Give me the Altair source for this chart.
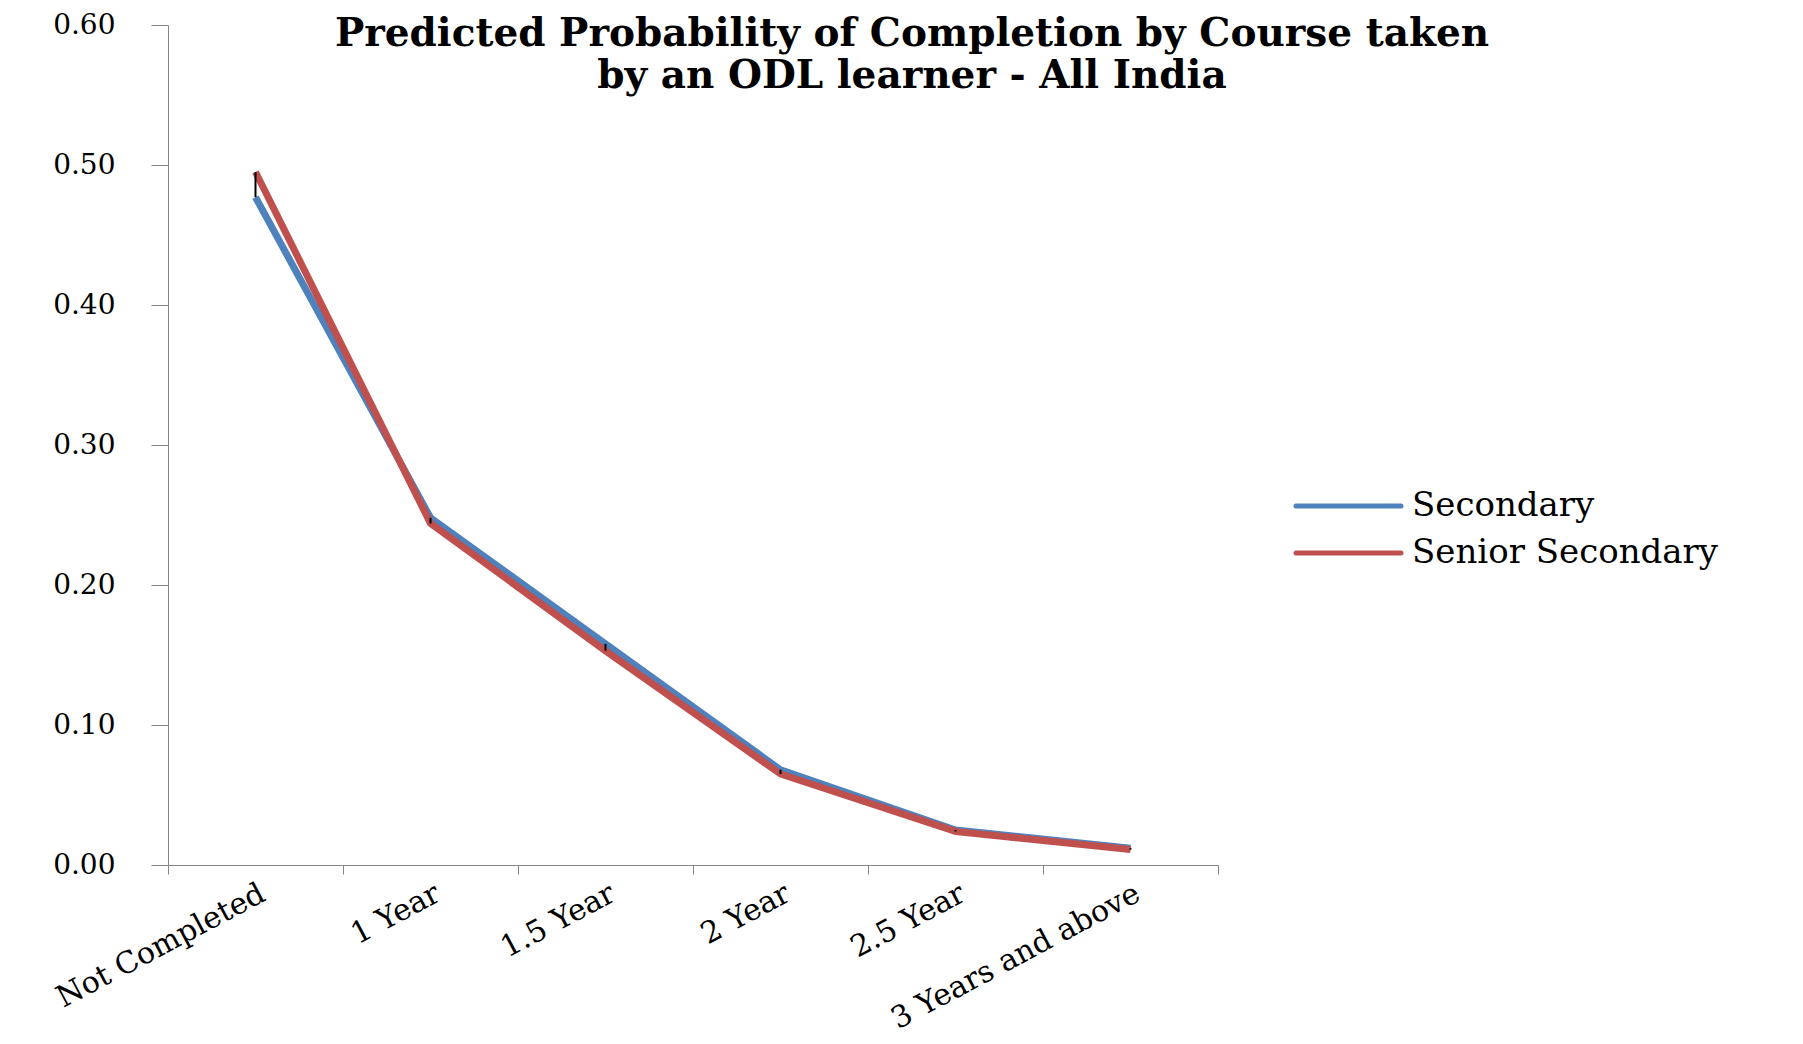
import altair as alt
import pandas as pd

CATEGORIES = ["Not Completed", "1 Year", "1.5 Year", "2 Year", "2.5 Year", "3 Years and above"]
SERIES = ["Secondary", "Senior Secondary"]
SECONDARY = [0.477, 0.248, 0.158, 0.068, 0.025, 0.012]
SENIOR_SECONDARY = [0.495, 0.244, 0.153, 0.065, 0.024, 0.011]
COLORS = ["#4F81BD", "#C0504D"]
Y_TICKS = [0.0, 0.1, 0.2, 0.3, 0.4, 0.5, 0.6]
TITLE = ["Predicted Probability of Completion  by Course taken", "by an ODL learner - All India"]

rows = []
for s, vals in zip(SERIES, [SECONDARY, SENIOR_SECONDARY]):
    for i, (c, v) in enumerate(zip(CATEGORIES, vals)):
        rows.append({"course": c, "series": s, "value": v, "order": i})
df = pd.DataFrame(rows)

W, H = 1050, 840
AXIS_GRAY = "#868686"
FONT = "DejaVu Serif"

x_enc = alt.X(
    "course:N",
    sort=CATEGORIES,
    bandPosition=0.5,
    scale=alt.Scale(type="band", paddingInner=0, paddingOuter=0),
    axis=alt.Axis(
        title=None, labelAngle=-28, labelAlign="right", labelBaseline="top",
        labelFont=FONT, labelFontSize=30, labelColor="#000000", labelLimit=0,
        tickBand="extent", tickSize=9, tickColor=AXIS_GRAY, domainColor=AXIS_GRAY,
        labelPadding=4, grid=False,
    ),
)
y_scale = alt.Scale(domain=[0, 0.6], nice=False)
y_axis = alt.Axis(
    title=None, values=Y_TICKS, format=".2f", labelFont=FONT, labelFontSize=28,
    labelColor="#000000", tickSize=17, tickColor=AXIS_GRAY, domainColor=AXIS_GRAY,
    labelPadding=36, grid=False,
)

lines = alt.Chart(df).mark_line(strokeWidth=7, strokeJoin="round").encode(
    x=x_enc,
    y=alt.Y("value:Q", scale=y_scale, axis=y_axis),
    color=alt.Color("series:N", scale=alt.Scale(domain=SERIES, range=COLORS), legend=None),
    order="order:Q",
)

highlow = alt.Chart(df).mark_rule(color="black", strokeWidth=2).encode(
    x=x_enc,
    y=alt.Y("min(value):Q", scale=y_scale),
    y2=alt.Y2("max(value):Q"),
)

legend_layers = []
for i, (s, col) in enumerate(zip(SERIES, COLORS)):
    ld = pd.DataFrame({"series": [s]})
    yy = 481 + i * 47
    legend_layers.append(
        alt.Chart(ld).mark_rule(color=col, strokeWidth=5, strokeCap="round").encode(
            x=alt.value(1128), x2=alt.value(1233), y=alt.value(yy)
        )
    )
    legend_layers.append(
        alt.Chart(ld).mark_text(align="left", baseline="middle", font=FONT, fontSize=34, color="#000000").encode(
            x=alt.value(1244), y=alt.value(yy), text="series:N"
        )
    )

chart = alt.layer(lines, highlow, *legend_layers).properties(
    width=W,
    height=H,
    title=alt.TitleParams(
        TITLE, font=FONT, fontSize=39, fontWeight="bold", anchor="middle",
        color="#000000", dx=219, dy=89, lineHeight=42,
    ),
    autosize=alt.AutoSizeParams(type="none"),
    padding={"left": 160, "top": 17, "right": 570, "bottom": 170},
).configure(background="white").configure_view(stroke=None, strokeWidth=0)

chart.save("out.html", embed_options={"renderer": "svg", "actions": False})
